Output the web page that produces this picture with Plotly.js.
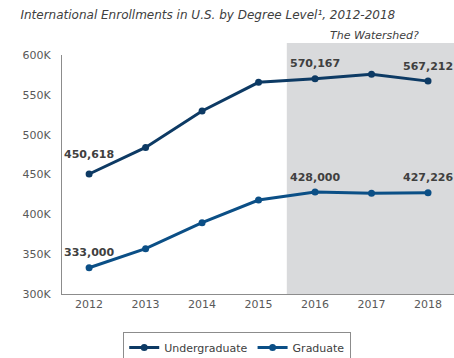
<!DOCTYPE html>
<html><head><meta charset="utf-8">
<script src="https://cdn.plot.ly/plotly-3.0.1.min.js"></script>
<style>html,body{margin:0;padding:0;background:#fff;}#chart{width:454px;height:358px;}</style>
</head><body><div id="chart"></div>
<script>
var years = [2012, 2013, 2014, 2015, 2016, 2017, 2018];
var undergraduate = [450618, 484000, 529700, 565700, 570167, 575800, 567212];
var graduate = [333000, 356900, 389500, 418000, 428000, 426400, 427226];
var yTickVals = [300000, 350000, 400000, 450000, 500000, 550000, 600000];
var yTickText = ['300K', '350K', '400K', '450K', '500K', '550K', '600K'];
var labelYears = [2012, 2016, 2018];
var shadeStart = 2015.5;
var shadeEnd = 2018.5;
var titleText = 'International Enrollments in U.S. by Degree Level¹, 2012-2018';
var shadeText = 'The Watershed?';

var font = 'DejaVu Sans, Verdana, sans-serif';
var ugColor = '#0d3a64';
var grColor = '#0b4f86';

var traces = [
  {x: years, y: undergraduate, name: 'Undergraduate', type: 'scatter', mode: 'lines+markers',
   line: {color: ugColor, width: 3}, marker: {color: ugColor, size: 7}},
  {x: years, y: graduate, name: 'Graduate', type: 'scatter', mode: 'lines+markers',
   line: {color: grColor, width: 3}, marker: {color: grColor, size: 7}}
];

function fmt(v){ return v.toLocaleString('en-US'); }
var annotations = [];
labelYears.forEach(function(yr){
  var i = years.indexOf(yr);
  annotations.push({x: yr, y: undergraduate[i], text: fmt(undergraduate[i]), showarrow: false,
    yshift: yr === 2012 ? 20 : 15, font: {family: font, size: 11, color: '#404040', weight: 'bold'}});
  annotations.push({x: yr, y: graduate[i], text: fmt(graduate[i]), showarrow: false,
    yshift: 15, font: {family: font, size: 11, color: '#404040', weight: 'bold'}});
});
annotations.push({xref: 'paper', yref: 'paper', x: 0.915, y: 1.045, xanchor: 'right', yanchor: 'bottom',
  text: '<i>' + shadeText + '</i>', showarrow: false, font: {family: font, size: 11, color: '#404040'}});

var layout = {
  width: 454, height: 358,
  margin: {l: 62, r: 0, t: 55, b: 64, autoexpand: false},
  paper_bgcolor: '#fff', plot_bgcolor: 'rgba(0,0,0,0)',
  title: {text: '<i>' + titleText + '</i>', x: 0.045, xanchor: 'left', y: 0.96, yanchor: 'middle',
    font: {family: font, size: 12, color: '#404040'}},
  xaxis: {range: [2011.52, 2018.46], tickvals: years, ticktext: years.map(String), showgrid: false, zeroline: false,
    showline: true, linecolor: '#8c8c8c', linewidth: 1, ticks: '', fixedrange: true, automargin: false,
    tickfont: {family: font, size: 11, color: '#595959'}},
  yaxis: {range: [300000, 600000], tickvals: yTickVals, ticktext: yTickText, showgrid: false, zeroline: false,
    showline: true, linecolor: '#8c8c8c', linewidth: 1, ticks: '', ticklabelstandoff: 8, automargin: false,
    tickfont: {family: font, size: 11, color: '#595959'}},
  shapes: [{type: 'rect', xref: 'x', yref: 'paper', x0: shadeStart, x1: shadeEnd, y0: 0, y1: 1.05,
    fillcolor: '#d9dadc', line: {width: 0}, layer: 'below'}],
  annotations: annotations,
  showlegend: true,
  legend: {orientation: 'h', x: 0.447, xanchor: 'center', y: -0.159, yanchor: 'top',
    bordercolor: '#8c8c8c', borderwidth: 1, bgcolor: '#fff',
    font: {family: font, size: 11, color: '#404040'}, itemwidth: 30}
};

Plotly.newPlot('chart', traces, layout, {displayModeBar: false, staticPlot: true});
</script>
</body></html>
